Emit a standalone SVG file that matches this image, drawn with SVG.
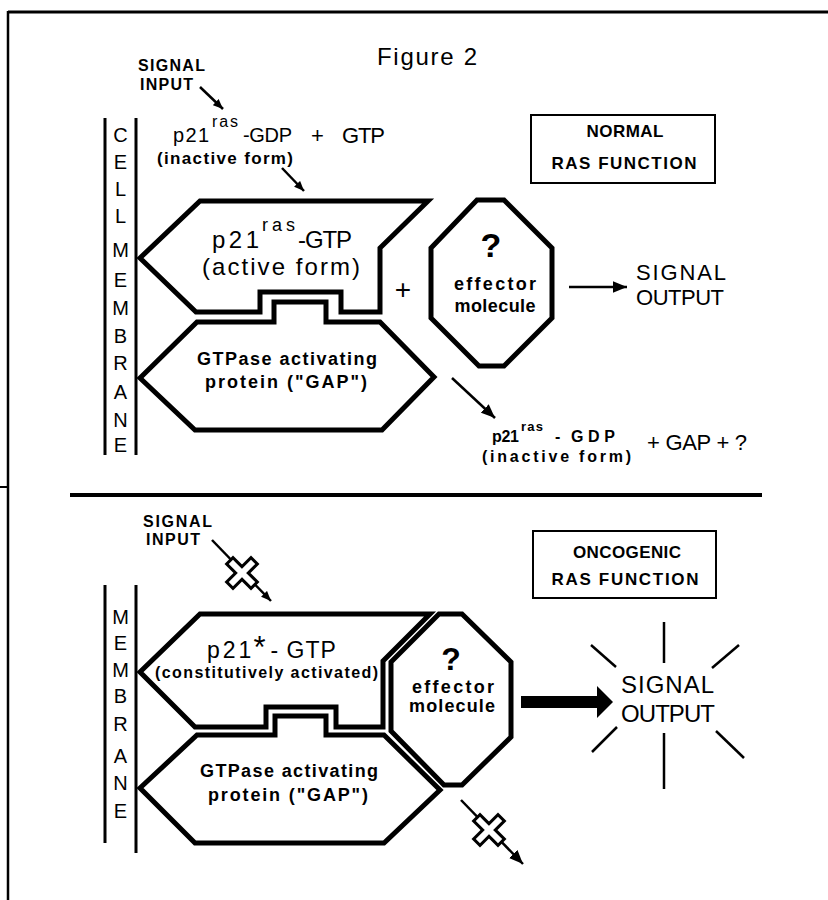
<svg xmlns="http://www.w3.org/2000/svg" width="828" height="900" viewBox="0 0 828 900">
<defs>
<marker id="ah" markerUnits="userSpaceOnUse" viewBox="0 0 12 10" refX="12" refY="5" markerWidth="14" markerHeight="12" orient="auto"><path d="M0,0 L12,5 L0,10 Z" fill="#000"/></marker>
<marker id="ahs" markerUnits="userSpaceOnUse" viewBox="0 0 12 10" refX="12" refY="5" markerWidth="10" markerHeight="9" orient="auto"><path d="M0,0 L12,5 L0,10 Z" fill="#000"/></marker>
</defs>
<style>
.t{font-family:"Liberation Sans",Arial,sans-serif;fill:#000}
.b{font-weight:bold}
.shape{fill:#fff;stroke:#000;stroke-width:5;stroke-linejoin:miter}
.box{fill:#fff;stroke:#000;stroke-width:2}
.mem line{stroke:#000;stroke-width:3}
.ln{stroke:#000;stroke-width:2.5;fill:none}
.ray{stroke:#000;stroke-width:2.5}
.xo{stroke:#000;stroke-width:12;fill:none;stroke-linecap:square}
.xi{stroke:#fff;stroke-width:6;fill:none;stroke-linecap:square}
.ml{font-family:"Liberation Sans",Arial,sans-serif;font-size:20px;text-anchor:middle}
</style>
<rect x="0" y="0" width="828" height="900" fill="#fff"/>

<g id="frame">
<line x1="8" y1="12" x2="828" y2="12" stroke="#000" stroke-width="3"/>
<line x1="8" y1="11" x2="8" y2="900" stroke="#000" stroke-width="2.5"/>
<line x1="0" y1="487" x2="8" y2="487" stroke="#000" stroke-width="2"/>
<line x1="70" y1="495" x2="762" y2="495" stroke="#000" stroke-width="4"/>
</g>

<g id="title"><text class="t" x="377" y="65" font-size="24" textLength="100">Figure 2</text></g>

<!-- TOP PANEL -->
<g id="signal-input-top">
<text class="t b" x="138" y="71" font-size="16" textLength="67">SIGNAL</text>
<text class="t b" x="140" y="90" font-size="16" textLength="53">INPUT</text>
</g>

<g id="membrane-top" class="mem">
<line x1="105" y1="118" x2="105" y2="455"/>
<line x1="136" y1="118" x2="136" y2="455"/>
<text class="ml" x="120.5" y="142">C</text>
<text class="ml" x="120.5" y="169">E</text>
<text class="ml" x="120.5" y="196">L</text>
<text class="ml" x="120.5" y="223">L</text>
<text class="ml" x="120.5" y="257">M</text>
<text class="ml" x="120.5" y="287">E</text>
<text class="ml" x="120.5" y="315">M</text>
<text class="ml" x="120.5" y="343">B</text>
<text class="ml" x="120.5" y="370">R</text>
<text class="ml" x="120.5" y="399">A</text>
<text class="ml" x="120.5" y="427">N</text>
<text class="ml" x="120.5" y="452">E</text>
</g>

<g id="p21-gdp-top">
<text class="t" x="173" y="142" font-size="20" textLength="36">p21</text>
<text class="t" x="212" y="127" font-size="16" textLength="26">ras</text>
<text class="t" x="243" y="142" font-size="20" textLength="49">-GDP</text>
<text class="t" x="311" y="143" font-size="22">+</text>
<text class="t" x="342" y="143" font-size="22" textLength="43">GTP</text>
<text class="t b" x="157" y="164" font-size="17" textLength="136">(inactive form)</text>
</g>

<g id="box-normal">
<rect class="box" x="531" y="115" width="184" height="68"/>
<text class="t b" x="625" y="137" font-size="17" text-anchor="middle" textLength="77">NORMAL</text>
<text class="t b" x="624" y="169" font-size="17" text-anchor="middle" textLength="145">RAS FUNCTION</text>
</g>

<g id="p21-gtp-top">
<path class="shape" d="M140,258 L200,201 L428,201 L380,248 L380,312 L341,312 L341,292 L260,292 L260,312 L196,312 Z"/>
<text class="t" x="212" y="248" font-size="24" textLength="47">p21</text>
<text class="t" x="262" y="231" font-size="18" textLength="33">ras</text>
<text class="t" x="298" y="248" font-size="24" textLength="54">-GTP</text>
<text class="t" x="202" y="275" font-size="24" textLength="158">(active form)</text>
</g>

<g id="gap-top">
<path class="shape" d="M140,378 L197,322 L274,322 L274,302 L326,302 L326,322 L380,322 L434,377 L382,430 L195,430 Z"/>
<text class="t b" x="197" y="365" font-size="18" textLength="180">GTPase activating</text>
<text class="t b" x="205" y="388" font-size="18" textLength="162">protein ("GAP")</text>
</g>

<g id="plus-top"><text class="t" x="403" y="299" font-size="28" text-anchor="middle">+</text></g>

<g id="effector-top">
<path class="shape" d="M477,200 L504,200 L552,248 L552,318 L504,366 L479,366 L431,318 L431,248 Z"/>
<text class="t b" x="491" y="257" font-size="34" text-anchor="middle">?</text>
<text class="t b" x="495" y="290" font-size="18" text-anchor="middle" textLength="82">effector</text>
<text class="t b" x="495" y="312" font-size="18" text-anchor="middle" textLength="81">molecule</text>
</g>

<g id="signal-output-top">
<text class="t" x="636" y="280" font-size="22" textLength="90">SIGNAL</text>
<text class="t" x="636" y="305" font-size="22" textLength="88">OUTPUT</text>
</g>

<g id="products-top">
<text class="t b" x="492" y="442" font-size="16" textLength="27">p21</text>
<text class="t b" x="521" y="431" font-size="13" textLength="22">ras</text>
<text class="t b" x="555" y="442" font-size="16">-</text>
<text class="t b" x="571" y="442" font-size="16" textLength="44">GDP</text>
<text class="t b" x="482" y="462" font-size="16" textLength="149">(inactive form)</text>
<text class="t" x="647" y="450" font-size="22" textLength="100">+ GAP + ?</text>
</g>

<!-- BOTTOM PANEL -->
<g id="signal-input-bottom">
<text class="t b" x="143" y="527" font-size="16" textLength="69">SIGNAL</text>
<text class="t b" x="146" y="545" font-size="16" textLength="54">INPUT</text>
</g>

<g id="box-oncogenic">
<rect class="box" x="533" y="531" width="183" height="67"/>
<text class="t b" x="627" y="558" font-size="17" text-anchor="middle" textLength="108">ONCOGENIC</text>
<text class="t b" x="625" y="585" font-size="17" text-anchor="middle" textLength="147">RAS FUNCTION</text>
</g>

<g id="membrane-bottom" class="mem">
<line x1="105" y1="585" x2="105" y2="843"/>
<line x1="136" y1="585" x2="136" y2="853"/>
<text class="ml" x="120.5" y="624">M</text>
<text class="ml" x="120.5" y="650">E</text>
<text class="ml" x="120.5" y="677">M</text>
<text class="ml" x="120.5" y="703">B</text>
<text class="ml" x="120.5" y="731">R</text>
<text class="ml" x="120.5" y="763">A</text>
<text class="ml" x="120.5" y="790">N</text>
<text class="ml" x="120.5" y="818">E</text>
</g>

<g id="p21-star-bottom">
<path class="shape" d="M140,672 L200,614 L430,614 L383,661 L383,727 L336,727 L336,707 L266,707 L266,727 L195,727 Z"/>
<text class="t" x="207" y="658" font-size="23"><tspan letter-spacing="3">p21</tspan><tspan font-size="31" dx="-1">*</tspan><tspan dx="5" letter-spacing="1">- GTP</tspan></text>
<text class="t b" x="155" y="678" font-size="16" textLength="223">(constitutively activated)</text>
</g>

<g id="gap-bottom">
<path class="shape" d="M140,788 L197,735 L275,735 L275,716 L326,716 L326,735 L384,735 L440,790 L384,843 L195,843 Z"/>
<text class="t b" x="200" y="777" font-size="18" textLength="178">GTPase activating</text>
<text class="t b" x="208" y="801" font-size="18" textLength="160">protein ("GAP")</text>
</g>

<g id="effector-bottom">
<path class="shape" d="M439,614 L462,614 L511,662 L511,737 L462,785 L444,785 L391,731 L391,662 Z"/>
<text class="t b" x="451" y="670" font-size="32" text-anchor="middle">?</text>
<text class="t b" x="453" y="693" font-size="18" text-anchor="middle" textLength="82">effector</text>
<text class="t b" x="452" y="712" font-size="18" text-anchor="middle" textLength="86">molecule</text>
</g>

<g id="signal-output-bottom">
<text class="t" x="621" y="693" font-size="24" textLength="93">SIGNAL</text>
<text class="t" x="621" y="722" font-size="24" textLength="94">OUTPUT</text>
<line class="ray" x1="664" y1="622" x2="664" y2="663"/>
<line class="ray" x1="591" y1="645" x2="616" y2="667"/>
<line class="ray" x1="739" y1="645" x2="712" y2="668"/>
<line class="ray" x1="617" y1="727" x2="592" y2="752"/>
<line class="ray" x1="664" y1="733" x2="664" y2="789"/>
<line class="ray" x1="716" y1="731" x2="744" y2="758"/>
</g>

<g id="connectors">
<line class="ln" x1="200" y1="87" x2="223" y2="109" marker-end="url(#ahs)"/>
<line class="ln" x1="282" y1="168" x2="304" y2="191" marker-end="url(#ahs)"/>
<line class="ln" x1="569" y1="287" x2="627" y2="287" marker-end="url(#ah)"/>
<line class="ln" x1="452" y1="378" x2="495" y2="418" marker-end="url(#ah)"/>
<line class="ln" x1="212" y1="540" x2="271" y2="601" marker-end="url(#ahs)"/>
<line class="ln" x1="461" y1="800" x2="523" y2="864" marker-end="url(#ah)"/>
<polygon points="521,696 597,696 597,686 613,702 597,718 597,708 521,708" fill="#000"/>
<path class="xo" d="M233,564 L251,582 M251,564 L233,582"/>
<path class="xi" d="M233,564 L251,582 M251,564 L233,582"/>
<path class="xo" d="M480,821 L498,839 M498,821 L480,839"/>
<path class="xi" d="M480,821 L498,839 M498,821 L480,839"/>
</g>
</svg>
